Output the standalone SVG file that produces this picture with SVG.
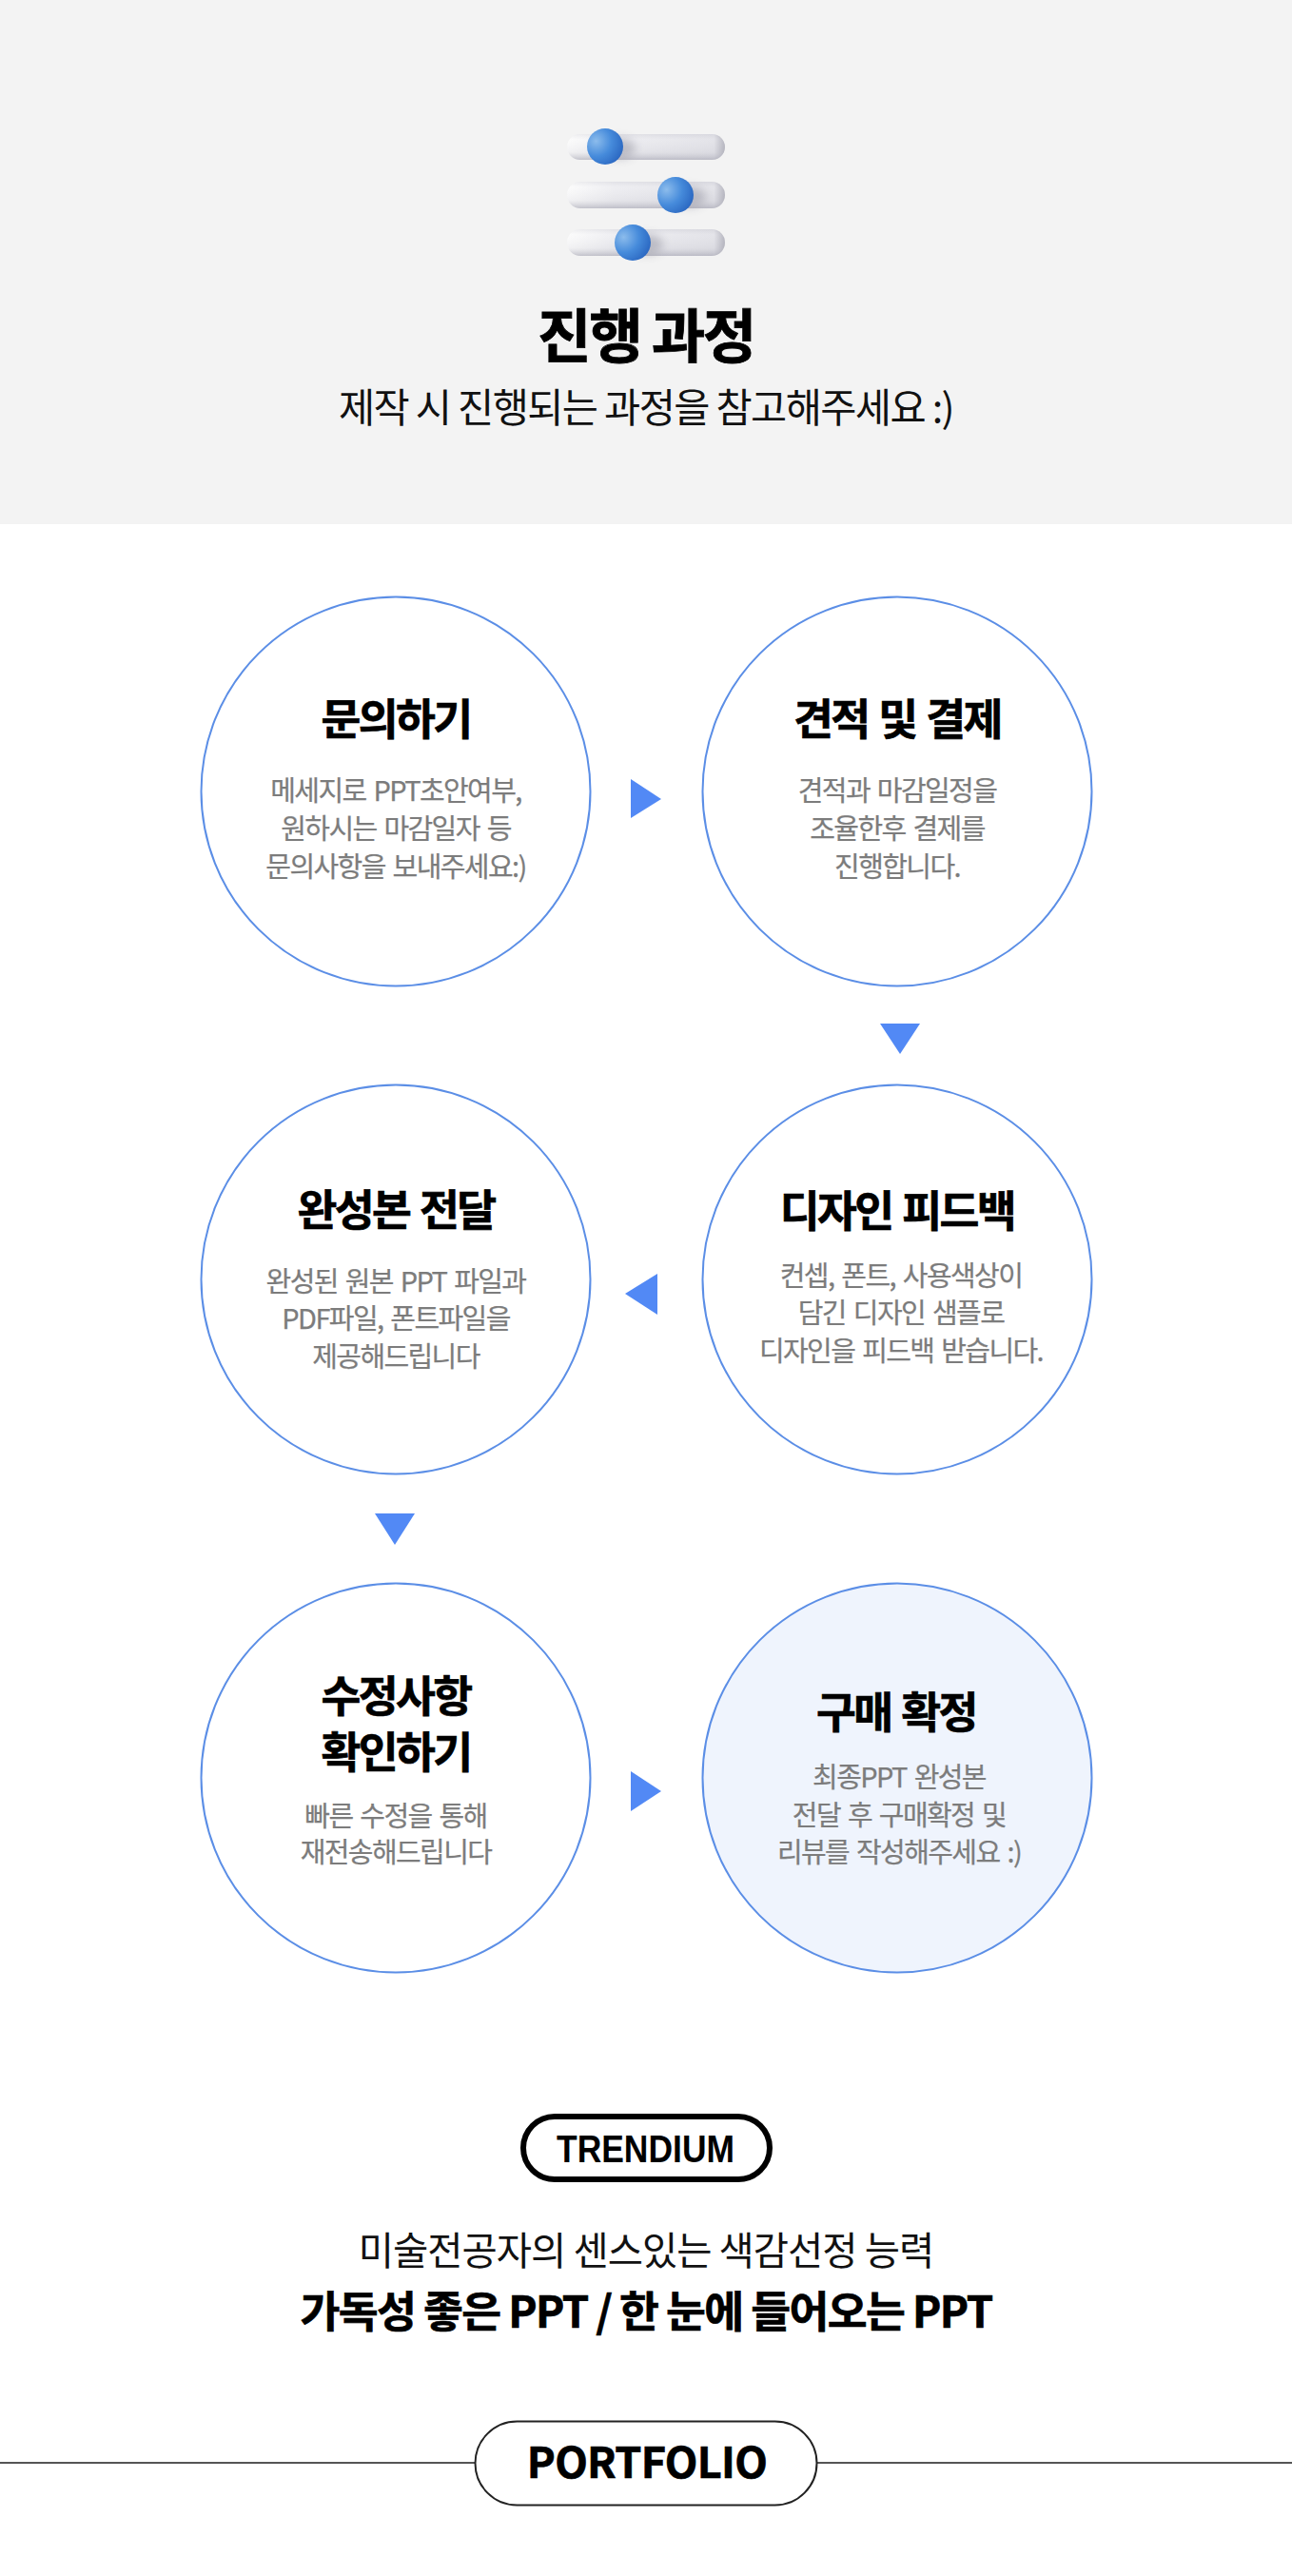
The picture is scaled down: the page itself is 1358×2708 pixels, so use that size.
<svg xmlns="http://www.w3.org/2000/svg" width="1358" height="2708" viewBox="0 0 1358 2708">
<style>
text{font-family:"Noto Sans CJK KR","Noto Sans",sans-serif;text-anchor:middle}
.t{font-size:45.500px;font-weight:700;fill:#000;stroke:#000;stroke-width:.7;letter-spacing:-2.6px;word-spacing:3px}
.d{font-size:29px;font-weight:400;fill:#7c7c7c;stroke:#7c7c7c;stroke-width:.25;letter-spacing:-1.6px;word-spacing:3px}
.c{fill:#fff;stroke:#5b8ee6;stroke-width:2}
.a{fill:#5289f5}
</style>
<defs>
<linearGradient id="tl" x1="0" y1="0" x2="1" y2="0"><stop offset="0" stop-color="#fbfbfb"/><stop offset=".3" stop-color="#ececf0"/><stop offset=".93" stop-color="#e0e0e6"/><stop offset="1" stop-color="#adadb8"/></linearGradient>
<linearGradient id="tv" x1="0" y1="0" x2="0" y2="1"><stop offset="0" stop-color="#a8a8b4" stop-opacity=".15"/><stop offset=".2" stop-color="#fff" stop-opacity=".12"/><stop offset=".7" stop-color="#c8c8d0" stop-opacity=".2"/><stop offset="1" stop-color="#a5a5b2" stop-opacity=".65"/></linearGradient>
<radialGradient id="b" cx=".25" cy=".35" r=".95"><stop offset="0" stop-color="#8cbcec"/><stop offset=".45" stop-color="#468bdb"/><stop offset="1" stop-color="#1f58b6"/></radialGradient>
<filter id="sh" x="-50%" y="-50%" width="200%" height="200%"><feGaussianBlur stdDeviation="5"/></filter>
</defs>
<rect id="header-bg" width="1358" height="551" fill="#f3f3f3"/>
<g id="icon">
<rect x="596" y="141" width="166" height="27" rx="13.500" fill="url(#tl)"/>
<rect x="596" y="141" width="166" height="27" rx="13.500" fill="url(#tv)"/>
<rect x="596" y="191" width="166" height="28" rx="14" fill="url(#tl)"/>
<rect x="596" y="191" width="166" height="28" rx="14" fill="url(#tv)"/>
<rect x="596" y="241" width="166" height="28" rx="14" fill="url(#tl)"/>
<rect x="596" y="241" width="166" height="28" rx="14" fill="url(#tv)"/>
<ellipse cx="650" cy="156" rx="18" ry="11" fill="#8a8a98" opacity=".45" filter="url(#sh)"/>
<ellipse cx="724" cy="207" rx="18" ry="11" fill="#8a8a98" opacity=".45" filter="url(#sh)"/>
<ellipse cx="679" cy="257" rx="18" ry="11" fill="#8a8a98" opacity=".45" filter="url(#sh)"/>
<circle cx="636" cy="154" r="19" fill="url(#b)"/>
<circle cx="710" cy="205" r="19" fill="url(#b)"/>
<circle cx="665" cy="255" r="19" fill="url(#b)"/>
</g>
<g id="header-text">
<text x="679" y="376" font-size="61.500" font-weight="700" letter-spacing="-2.5" fill="#000" stroke="#000" stroke-width=".8">진행 과정</text>
<text x="679" y="444" font-size="41.500" font-weight="400" letter-spacing="-1.6" fill="#111">제작 시 진행되는 과정을 참고해주세요 :)</text>
</g>
<g id="connectors">
<polygon class="a" points="663,819 695,840 663,860"/>
<polygon class="a" points="925,1076 967,1076 946,1108"/>
<polygon class="a" points="691,1339 691,1382 657,1360"/>
<polygon class="a" points="394,1591 436,1591 415,1624"/>
<polygon class="a" points="663,1862 695,1883 663,1904"/>
</g>
<g id="step1">
<circle class="c" cx="416" cy="832" r="204.500"/>
<text class="t" x="416" y="773">문의하기</text>
<text class="d" x="416" y="842">메세지로 PPT초안여부,</text>
<text class="d" x="416" y="882">원하시는 마감일자 등</text>
<text class="d" x="416" y="922">문의사항을 보내주세요:)</text>
</g>
<g id="step2">
<circle class="c" cx="943" cy="832" r="204.500"/>
<text class="t" x="943" y="773">견적 및 결제</text>
<text class="d" x="943" y="842">견적과 마감일정을</text>
<text class="d" x="943" y="882">조율한후 결제를</text>
<text class="d" x="943" y="922">진행합니다.</text>
</g>
<g id="step3">
<circle class="c" cx="943" cy="1345" r="204.500"/>
<text class="t" x="943" y="1290">디자인 피드백</text>
<text class="d" x="947" y="1352">컨셉, 폰트, 사용색상이</text>
<text class="d" x="947" y="1391">담긴 디자인 샘플로</text>
<text class="d" x="947" y="1431">디자인을 피드백 받습니다.</text>
</g>
<g id="step4">
<circle class="c" cx="416" cy="1345" r="204.500"/>
<text class="t" x="416" y="1289">완성본 전달</text>
<text class="d" x="416" y="1358">완성된 원본 PPT 파일과</text>
<text class="d" x="416" y="1397">PDF파일, 폰트파일을</text>
<text class="d" x="416" y="1437">제공해드립니다</text>
</g>
<g id="step5">
<circle class="c" cx="416" cy="1869" r="204.500"/>
<text class="t"><tspan x="416" y="1800">수정사항</tspan><tspan x="416" y="1859">확인하기</tspan></text>
<text class="d"><tspan x="416" y="1920">빠른 수정을 통해</tspan><tspan x="416" y="1958">재전송해드립니다</tspan></text>
</g>
<g id="step6">
<circle class="c" style="fill:#eff4fd" cx="943" cy="1869" r="204.500"/>
<text class="t" x="942" y="1817">구매 확정</text>
<text class="d" x="945" y="1879">최종PPT 완성본</text>
<text class="d" x="945" y="1919">전달 후 구매확정 및</text>
<text class="d" x="945" y="1958">리뷰를 작성해주세요 :)</text>
</g>
<g id="logo">
<rect x="550" y="2225" width="259" height="66" rx="33" fill="#fff" stroke="#000" stroke-width="6"/>
<text x="678.500" y="2273" font-size="40" font-weight="700" textLength="187" lengthAdjust="spacingAndGlyphs" fill="#000" style="font-family:'Liberation Sans',sans-serif">TRENDIUM</text>
</g>
<g id="footer-text">
<text x="679" y="2381" font-size="40.500" font-weight="400" letter-spacing="-1" fill="#111">미술전공자의 센스있는 색감선정 능력</text>
<text x="679" y="2447" font-size="45.500" font-weight="700" letter-spacing="-1.600" fill="#000" stroke="#000" stroke-width=".7">가독성 좋은 PPT / 한 눈에 들어오는 PPT</text>
</g>
<g id="portfolio">
<line x1="0" y1="2589" x2="499" y2="2589" stroke="#555" stroke-width="2"/>
<line x1="859" y1="2589" x2="1358" y2="2589" stroke="#555" stroke-width="2"/>
<rect x="499.500" y="2545.500" width="359" height="88" rx="44" fill="#fff" stroke="#222" stroke-width="2"/>
<text x="680" y="2605" font-size="45" font-weight="700" letter-spacing="-.7" fill="#000" stroke="#000" stroke-width=".7">PORTFOLIO</text>
</g>
</svg>
